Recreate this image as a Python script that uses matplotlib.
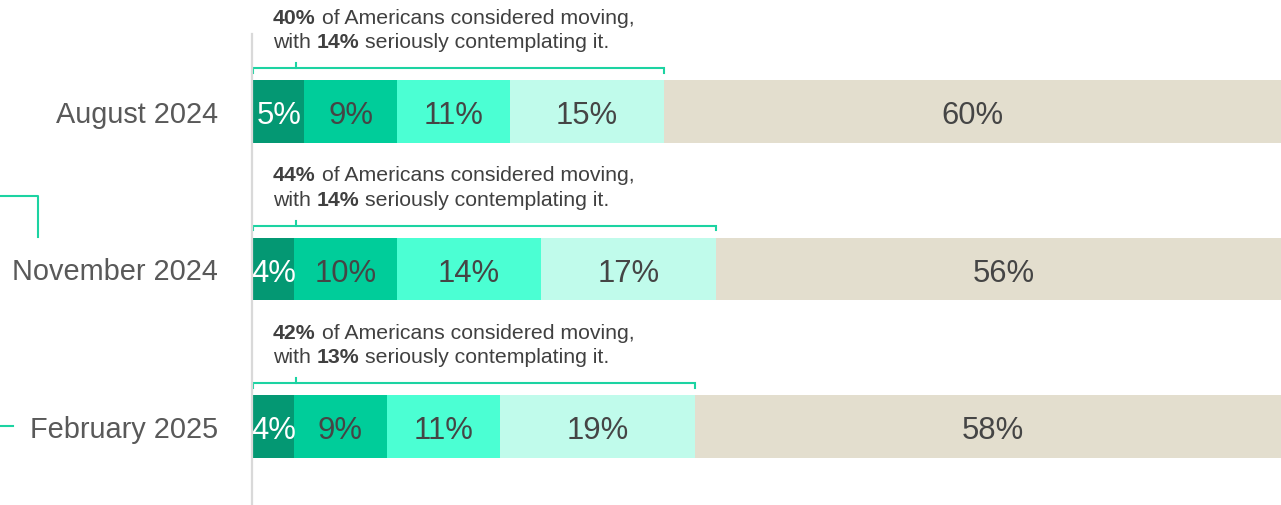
import matplotlib
matplotlib.use("Agg")
import matplotlib.pyplot as plt
from matplotlib.lines import Line2D
import matplotlib.transforms as mtransforms

plt.rcParams['font.family'] = ['Liberation Sans', 'DejaVu Sans']

# ---- data ----
periods = ["August 2024", "November 2024", "February 2025"]
seg_values = [
    [5, 9, 11, 15, 60],
    [4, 10, 14, 17, 56],
    [4, 9, 11, 19, 58],
]
considered = [40, 44, 42]
serious = [14, 14, 13]

colors = ["#049873", "#00CD9A", "#4BFFD3", "#C0FBEB", "#E3DECE"]
teal = "#1CD3A2"
val_color = "#454545"
lab_color = "#595959"
ann_color = "#404040"

W, H = 1281, 506
fig = plt.figure(figsize=(W / 100, H / 100), dpi=100)
ax = fig.add_axes([253 / W, 0, 1 - 253 / W, 1])
ax.set_xlim(0, 100)
ax.set_ylim(2.498, -0.715)
ax.axis('off')

bar_h = 0.397
for i, row in enumerate(seg_values):
    left = 0
    for j, v in enumerate(row):
        ax.barh(i, v, left=left, height=bar_h, color=colors[j], edgecolor='none')
        ax.text(left + v / 2, i + 0.022, f"{v}%", ha='center', va='center',
                fontsize=22.3, color='white' if j == 0 else val_color)
        left += v

# left labels
blend = mtransforms.blended_transform_factory(fig.transFigure, ax.transData)
for i, p in enumerate(periods):
    ax.text(218 / W, i + 0.015, p, transform=blend, ha='right', va='center',
            fontsize=20.8, color=lab_color)

# annotations with brackets
fs = 15.3
for i in range(len(periods)):
    total = sum(seg_values[i][:4])
    yb = i - 0.276
    ax.plot([0, 0, total, total], [yb + 0.028, yb, yb, yb + 0.028],
            color=teal, lw=1.5, clip_on=False, solid_joinstyle='miter')
    ax.plot([4.2, 4.2], [yb, yb - 0.032], color=teal, lw=1.5, clip_on=False)

    y1 = i - 0.598
    y2 = i - 0.445
    t = ax.text(1.95, y1, f"{considered[i]}%", fontsize=fs, fontweight='bold',
                color=ann_color, ha='left', va='center')
    ax.annotate("of Americans considered moving,", xy=(1, 0), xycoords=t,
                xytext=(4.2, 0), textcoords='offset points', fontsize=fs,
                color=ann_color, ha='left', va='bottom')
    t2 = ax.text(1.95, y2, "with", fontsize=fs, color=ann_color,
                 ha='left', va='center')
    t3 = ax.annotate(f"{serious[i]}%", xy=(1, 0), xycoords=t2,
                     xytext=(4.2, 0), textcoords='offset points', fontsize=fs,
                     fontweight='bold', color=ann_color, ha='left', va='bottom')
    ax.annotate("seriously contemplating it.", xy=(1, 0), xycoords=t3,
                xytext=(4.2, 0), textcoords='offset points', fontsize=fs,
                color=ann_color, ha='left', va='bottom')

# vertical gray divider
fig.add_artist(Line2D([252 / W, 252 / W], [1 - 35 / H, 0],
                      color='#D9D9D9', lw=1.6))
# partial teal connectors at far left
fig.add_artist(Line2D([0, 38 / W, 38 / W], [1 - 197 / H, 1 - 197 / H, 1 - 238 / H],
                      color=teal, lw=1.5))
fig.add_artist(Line2D([0, 13 / W], [1 - 427 / H, 1 - 427 / H], color=teal, lw=1.5))

fig.savefig("out.png", dpi=100)
